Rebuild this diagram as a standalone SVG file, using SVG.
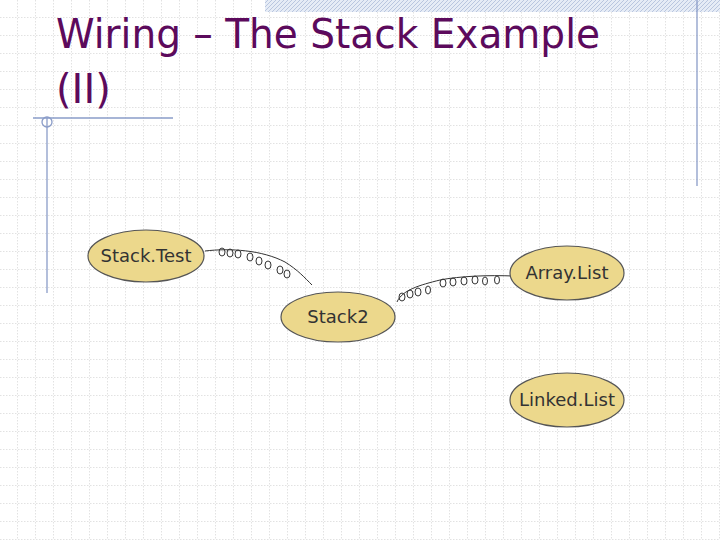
<svg xmlns="http://www.w3.org/2000/svg" width="720" height="540" viewBox="0 0 720 540">
<defs>
<pattern id="g" width="18" height="18" patternUnits="userSpaceOnUse"><path d="M18 0V18M0 18H18" fill="none" stroke="#c4c4c4" stroke-width="1" stroke-dasharray="1.5 1.5"/></pattern>
<pattern id="h" width="4" height="4" patternUnits="userSpaceOnUse"><rect width="4" height="4" fill="#e6ecf6"/><path d="M0 4L4 0" stroke="#b9c6df" stroke-width="1"/></pattern>
<style>.n{fill:#ecd88c;stroke:#555;stroke-width:1.2}.t{font-family:"DejaVu Sans",sans-serif;font-size:18px;fill:#333;text-anchor:middle}.w{fill:none;stroke:#333;stroke-width:1}.l{fill:none;stroke:#333;stroke-width:1}.d{stroke:#8a9cc8;stroke-width:1.3;fill:none}</style>
</defs>
<rect width="720" height="540" fill="#fff"/>
<rect width="720" height="540" fill="url(#g)"/>
<rect x="265" y="0" width="455" height="12" fill="url(#h)"/>
<g id="decor">
<line class="d" x1="697" y1="0" x2="697" y2="186"/>
<line class="d" x1="47" y1="118" x2="47" y2="293"/>
<line class="d" x1="33" y1="118" x2="173" y2="118"/>
<circle class="d" cx="47" cy="122" r="5"/>
</g>
<text x="56" y="48" font-family="DejaVu Sans,sans-serif" font-size="40" fill="#5c0a5c" textLength="544" lengthAdjust="spacingAndGlyphs">Wiring – The Stack Example</text>
<text x="56" y="103" font-family="DejaVu Sans,sans-serif" font-size="40" fill="#5c0a5c">(II)</text>
<g id="connectors">
<path class="w" d="M205 251C230 248 262 250 285 262C298 270 305 278 312 285"/>
<g class="l">
<ellipse cx="222" cy="252" rx="3" ry="4"/><ellipse cx="230" cy="253" rx="3" ry="4"/><ellipse cx="238" cy="254" rx="3" ry="4"/>
<ellipse cx="250" cy="257" rx="3" ry="4"/><ellipse cx="259" cy="261" rx="3" ry="4"/><ellipse cx="268" cy="265" rx="3" ry="4"/>
<ellipse cx="280" cy="270" rx="3" ry="4"/><ellipse cx="287" cy="274" rx="3" ry="4"/>
</g>
<path class="w" d="M397 302C402 290 420 285 440 280C460 276 490 275 513 276"/>
<g class="l">
<ellipse cx="402" cy="297" rx="3" ry="4"/><ellipse cx="410" cy="294" rx="3" ry="4"/><ellipse cx="418" cy="292" rx="3" ry="4"/>
<ellipse cx="428" cy="290" rx="2.5" ry="4"/><ellipse cx="443" cy="283" rx="3" ry="4"/><ellipse cx="453" cy="282" rx="3" ry="4"/>
<ellipse cx="464" cy="281" rx="3" ry="4"/><ellipse cx="475" cy="280" rx="3" ry="4"/><ellipse cx="485" cy="281" rx="2.5" ry="4"/><ellipse cx="497" cy="280" rx="2.5" ry="4"/>
</g>
</g>
<g id="StackTest"><ellipse class="n" cx="146" cy="256" rx="58" ry="26"/><text class="t" x="146" y="262">Stack.Test</text></g>
<g id="ArrayList"><ellipse class="n" cx="567" cy="273" rx="57" ry="27"/><text class="t" x="567" y="279">Array.List</text></g>
<g id="Stack2"><ellipse class="n" cx="338" cy="317" rx="57" ry="25"/><text class="t" x="338" y="323">Stack2</text></g>
<g id="LinkedList"><ellipse class="n" cx="567" cy="400" rx="57" ry="27"/><text class="t" x="567" y="406">Linked.List</text></g>
</svg>
